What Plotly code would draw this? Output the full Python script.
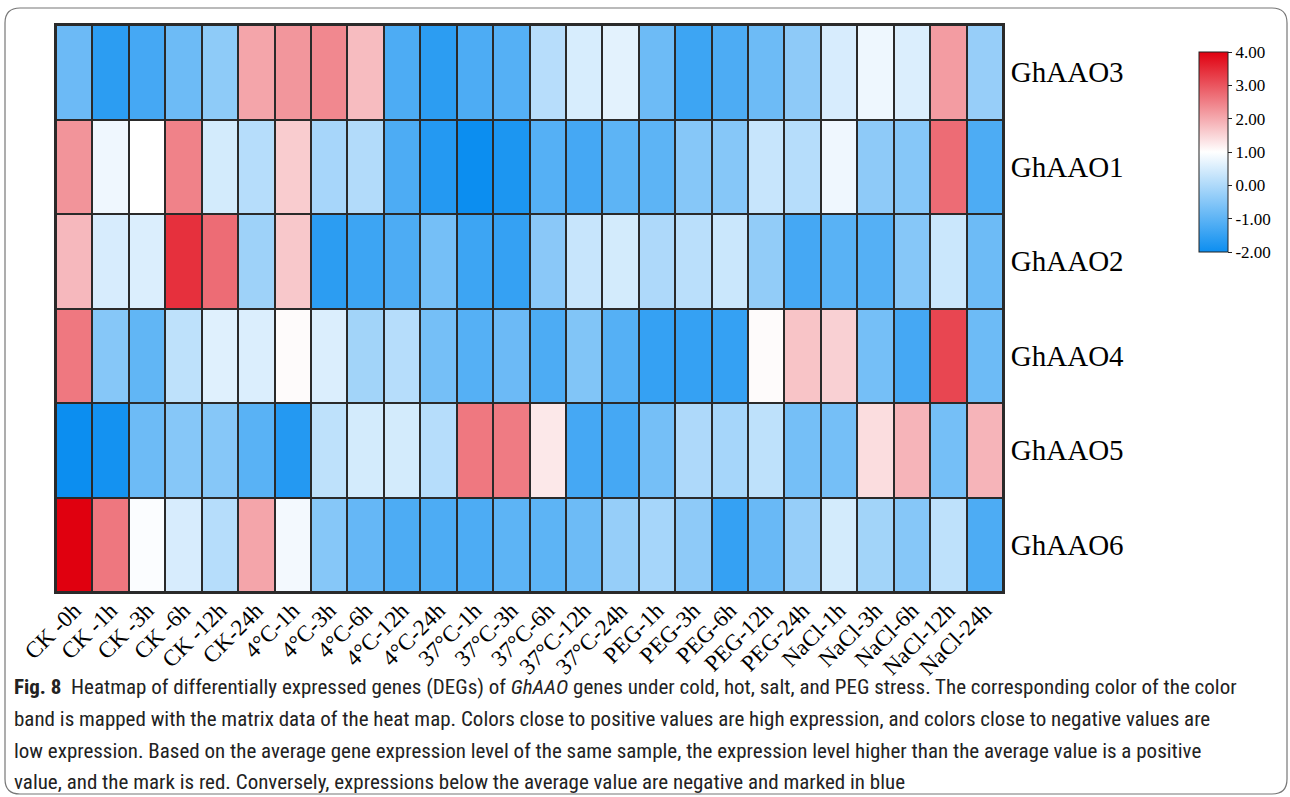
import plotly.graph_objects as go

samples = ["CK -0h", "CK -1h", "CK -3h", "CK -6h", "CK -12h", "CK-24h",
           "4°C-1h", "4°C-3h", "4°C-6h", "4°C-12h", "4°C-24h",
           "37°C-1h", "37°C-3h", "37°C-6h", "37°C-12h", "37°C-24h",
           "PEG-1h", "PEG-3h", "PEG-6h", "PEG-12h", "PEG-24h",
           "NaCl-1h", "NaCl-3h", "NaCl-6h", "NaCl-12h", "NaCl-24h"]

genes = ["GhAAO3", "GhAAO1", "GhAAO2", "GhAAO4", "GhAAO5", "GhAAO6"]

GhAAO3 = [-0.82, -1.6, -1.3, -0.8, -0.39, 2.06, 2.24, 2.4, 1.79, -1.2, -1.6, -1.2,
          -1.1, 0.11, 0.51, 0.66, -0.8, -1.4, -1.2, -0.8, -0.4, 0.5, 0.79, 0.55, 2.16, -0.29]
GhAAO1 = [2.26, 0.8, 1.0, 2.47, 0.46, 0.1, 1.6, -0.09, 0.05, -1.2, -1.7, -2.0,
          -1.8, -1.1, -1.3, -1.0, -1.0, -0.5, -0.5, 0.31, 0.1, 0.8, -0.4, -0.5, 2.73, -1.2]
GhAAO2 = [1.83, 0.5, 0.55, 3.43, 2.73, -0.2, 1.65, -1.6, -1.4, -1.2, -0.7, -1.4,
          -1.5, -0.45, 0.31, 0.46, 0.0, 0.15, 0.35, -0.35, -1.3, -1.05, -1.1, -0.5, 0.35, -0.8]
GhAAO4 = [2.59, -0.5, -0.95, 0.2, 0.6, 0.55, 1.05, 0.55, -0.15, 0.1, -0.7, -1.1,
          -0.82, -1.2, -0.55, -1.1, -1.5, -1.5, -1.5, 1.05, 1.7, 1.55, -0.7, -1.3, 3.18, -0.8]
GhAAO5 = [-2.0, -1.9, -0.8, -0.5, -0.5, -1.05, -1.7, 0.2, 0.46, 0.46, 0.1, 2.59,
          2.55, 1.27, -1.3, -1.3, -0.7, 0.0, -0.1, 0.2, -0.7, -0.7, 1.4, 1.88, -0.7, 1.88]
GhAAO6 = [4.0, 2.6, 0.95, 0.5, 0.1, 2.06, 0.85, -0.5, -0.9, -1.2, -1.2, -1.2,
          -1.0, -1.0, -0.8, -0.3, -0.1, -0.4, -1.5, -0.85, -0.3, 0.46, -0.15, -0.5, 0.2, -1.2]

z = [GhAAO3, GhAAO1, GhAAO2, GhAAO4, GhAAO5, GhAAO6]

colorbar_ticks = [-2, -1, 0, 1, 2, 3, 4]
colorbar_labels = ["-2.00", "-1.00", "0.00", "1.00", "2.00", "3.00", "4.00"]

caption_lines = [
    "<b>Fig. 8</b>  Heatmap of differentially expressed genes (DEGs) of <i>GhAAO</i> genes under cold, hot, salt, and PEG stress. The corresponding color of the color",
    "band is mapped with the matrix data of the heat map. Colors close to positive values are high expression, and colors close to negative values are",
    "low expression. Based on the average gene expression level of the same sample, the expression level higher than the average value is a positive",
    "value, and the mark is red. Conversely, expressions below the average value are negative and marked in blue",
]

W, H = 1290, 797
L, R, T, B = 56, 1003, 25, 592
pw, ph = R - L, B - T

def px(x):
    return (x - L) / pw

def py(y):
    return (B - y) / ph

serif = "Liberation Serif, Times New Roman, serif"

fig = go.Figure(go.Heatmap(
    z=z, x=samples, y=genes,
    zmin=-2, zmax=4,
    colorscale=[[0, "#0c8ef0"], [0.5, "#ffffff"], [1, "#e0000f"]],
    xgap=2, ygap=2,
    colorbar=dict(
        x=px(1199), xanchor="left", y=py(52), yanchor="top",
        len=200 / ph, lenmode="fraction", thickness=29, thicknessmode="pixels",
        outlinewidth=1, outlinecolor="#222",
        tickvals=colorbar_ticks, ticktext=colorbar_labels,
        ticks="outside", ticklen=4, tickcolor="#222",
        tickfont=dict(family=serif, size=17, color="black"),
        xpad=0, ypad=0,
    ),
))

fig.update_layout(
    width=W, height=H,
    margin=dict(l=L, r=W - R, t=T, b=H - B),
    paper_bgcolor="white", plot_bgcolor="#2a2a2a",
    xaxis=dict(tickangle=-45, tickfont=dict(family=serif, size=23, color="black"),
               showline=True, mirror=True, linecolor="#2a2a2a", linewidth=2,
               ticks="", ticklabelstandoff=-6, showgrid=False, zeroline=False),
    yaxis=dict(autorange="reversed", side="right",
               tickfont=dict(family=serif, size=29, color="black"),
               showline=True, mirror=True, linecolor="#2a2a2a", linewidth=2,
               ticks="", ticklabelstandoff=0, showgrid=False, zeroline=False),
)

# rounded panel frame
r = 15
x0, x1, y0, y1 = 5, 1287, 8, 794
path = (f"M {px(x0 + r)},{py(y1)} Q {px(x0)},{py(y1)} {px(x0)},{py(y1 - r)} "
        f"L {px(x0)},{py(y0 + r)} "
        f"Q {px(x0)},{py(y0)} {px(x0 + r)},{py(y0)} "
        f"L {px(x1 - r)},{py(y0)} Q {px(x1)},{py(y0)} {px(x1)},{py(y0 + r)} "
        f"L {px(x1)},{py(y1 - r)} Q {px(x1)},{py(y1)} {px(x1 - r)},{py(y1)} Z")
fig.add_shape(type="path", path=path, xref="paper", yref="paper",
              line=dict(color="#777", width=1.2))

cap_y = [687, 719, 751, 782]
for line, yy in zip(caption_lines, cap_y):
    fig.add_annotation(text=line, xref="paper", yref="paper",
                       x=px(12), y=py(yy), xanchor="left", yanchor="middle",
                       showarrow=False, align="left",
                       font=dict(family="Roboto Condensed, Liberation Sans Narrow, sans-serif", size=21, color="#222"))

fig.write_html("out.html")
